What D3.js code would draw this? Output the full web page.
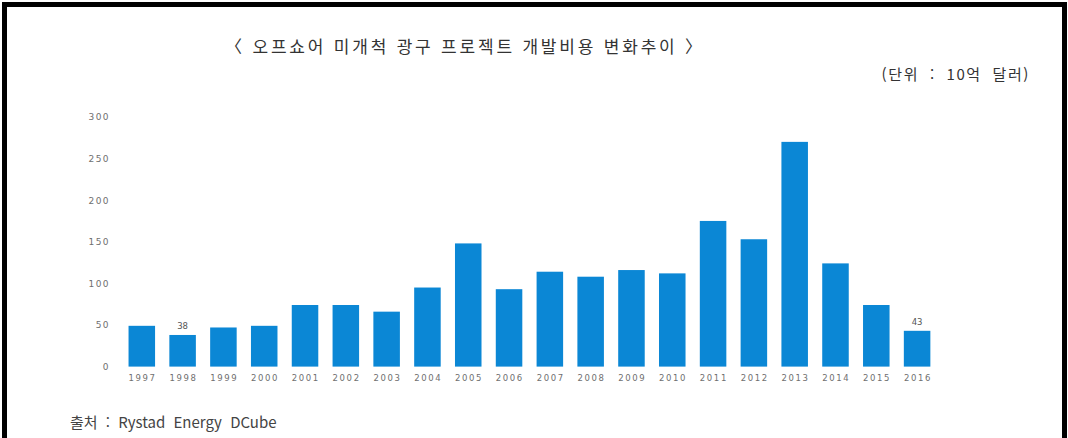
<!DOCTYPE html>
<html lang="ko">
<head>
    <meta charset="UTF-8">
    <title>오프쇼어 미개척 광구 프로젝트 개발비용 변화추이</title>
    <script src="https://d3js.org/d3.v7.min.js"></script>
    <style>
        body { margin: 0; background: #fff; }
        .kr { font-family: "Noto Sans CJK KR", "Noto Sans", sans-serif; }
        .tick text { font-family: "DejaVu Sans", sans-serif; fill: #6f6f6f; }
    </style>
</head>
<body>
<svg width="1068" height="438"></svg>

<script>
    // data (unit: 10억 달러)
    const years = ["1997","1998","1999","2000","2001","2002","2003","2004","2005","2006",
                   "2007","2008","2009","2010","2011","2012","2013","2014","2015","2016"];
    const costs = [49, 38, 47, 49, 74, 74, 66, 95, 148, 93,
                   114, 108, 116, 112, 175, 153, 270, 124, 74, 43];
    const labelledYears = ["1998", "2016"];
    const yTicks = [0, 50, 100, 150, 200, 250, 300];

    const titleText = "〈 오프쇼어 미개척 광구 프로젝트 개발비용 변화추이 〉";
    const unitText = "(단위 : 10억 달러)";
    const sourceText = "출처 : Rystad Energy DCube";

    const svg = d3.select("svg");

    // black frame round the picture
    svg.append("rect")
        .attr("x", 4.5).attr("y", 4.5)
        .attr("width", 1060).attr("height", 450)
        .attr("fill", "none")
        .attr("stroke", "#000")
        .attr("stroke-width", 5);

    // scales
    const x = d3.scaleBand()
        .domain(years)
        .range([121.4, 937.5])
        .paddingInner(0.35)
        .paddingOuter(0.175);

    const y = d3.scaleLinear()
        .domain([0, 300])
        .range([366.6, 116.9]);

    // y axis, labels only
    svg.append("g")
        .attr("transform", "translate(110,0)")
        .call(d3.axisLeft(y).tickValues(yTicks).tickSize(0).tickPadding(0))
        .call(g => g.select(".domain").remove())
        .selectAll("text")
        .attr("font-size", 9)
        .attr("letter-spacing", 1.4);

    // x axis, labels only
    svg.append("g")
        .attr("transform", "translate(0,375)")
        .call(d3.axisBottom(x).tickSize(0).tickPadding(0))
        .call(g => g.select(".domain").remove())
        .selectAll("text")
        .attr("font-size", 8.5)
        .attr("letter-spacing", 1.6)
        .attr("dx", 0.8);

    // bars
    svg.append("g")
        .selectAll("rect")
        .data(years)
        .join("rect")
        .attr("x", d => x(d))
        .attr("width", x.bandwidth())
        .attr("y", (d, i) => y(costs[i]))
        .attr("height", (d, i) => y(0) - y(costs[i]))
        .attr("fill", "#0b87d5");

    // value labels on a couple of bars
    svg.append("g")
        .selectAll("text")
        .data(labelledYears)
        .join("text")
        .attr("x", d => x(d) + x.bandwidth() / 2)
        .attr("y", d => y(costs[years.indexOf(d)]) - 6)
        .attr("text-anchor", "middle")
        .attr("font-family", "DejaVu Sans, sans-serif")
        .attr("font-size", 8.5)
        .attr("fill", "#555")
        .text(d => costs[years.indexOf(d)]);

    // title, unit, source
    svg.append("text")
        .attr("class", "kr")
        .attr("x", 465).attr("y", 47)
        .attr("dy", "0.35em")
        .attr("text-anchor", "middle")
        .attr("font-size", 17)
        .attr("letter-spacing", 2.8)
        .attr("fill", "#333")
        .text(titleText);

    svg.append("text")
        .attr("class", "kr")
        .attr("x", 1030).attr("y", 75)
        .attr("dy", "0.35em")
        .attr("text-anchor", "end")
        .attr("font-size", 15)
        .attr("letter-spacing", 1.6)
        .attr("word-spacing", 5)
        .attr("fill", "#333")
        .text(unitText);

    svg.append("text")
        .attr("class", "kr")
        .attr("x", 70).attr("y", 423)
        .attr("dy", "0.35em")
        .attr("font-size", 15)
        .attr("word-spacing", 4)
        .attr("fill", "#444")
        .text(sourceText);
</script>
</body>
</html>
